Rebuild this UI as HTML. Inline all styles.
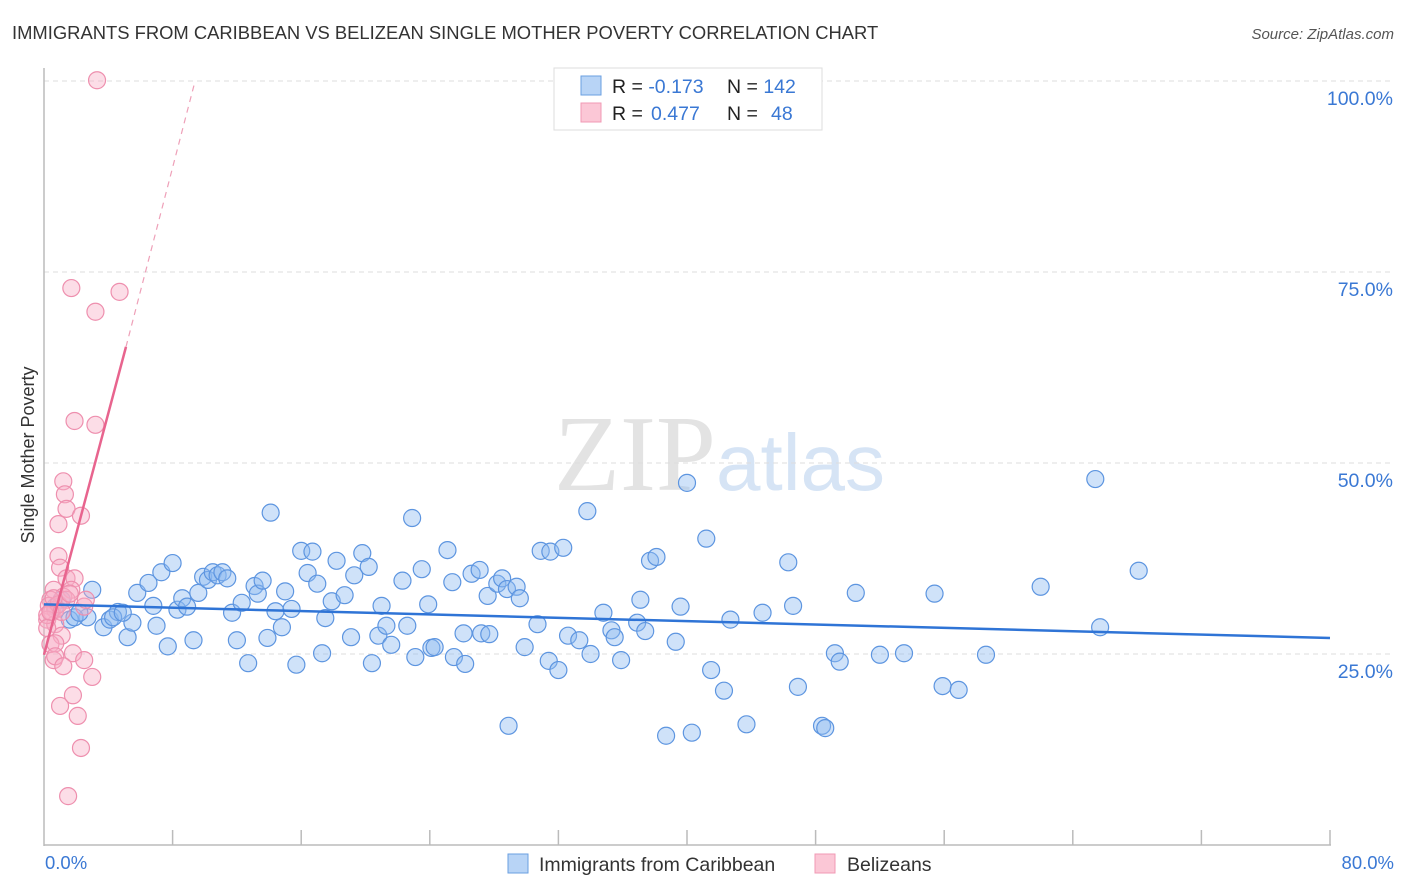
<!DOCTYPE html>
<html><head><meta charset="utf-8"><style>
body{margin:0;background:#fff;font-family:"Liberation Sans",sans-serif;}
svg{display:block}
</style></head><body>
<svg id="chart" width="1406" height="892">
<text x="12" y="39" font-size="18.4" fill="#333">IMMIGRANTS FROM CARIBBEAN VS BELIZEAN SINGLE MOTHER POVERTY CORRELATION CHART</text>
<text x="1394" y="39" font-size="15" fill="#555" font-style="italic" text-anchor="end">Source: ZipAtlas.com</text>
<text x="716" y="490" font-size="108" fill="#e3e3e3" text-anchor="end" font-family="Liberation Serif,serif">ZIP</text>
<text x="716" y="490" font-size="80" fill="#d6e4f5">atlas</text>
<g id="grid"></g><g id="axes"></g><g id="pts"></g><g id="trend"></g>
<text transform="translate(34,455) rotate(-90)" font-size="18" fill="#333" text-anchor="middle">Single Mother Poverty</text>
<text x="45" y="869" font-size="18.5" fill="#3a78d4">0.0%</text>
<text x="1394" y="869" font-size="18.5" fill="#3a78d4" text-anchor="end">80.0%</text>
<g>
<rect x="554" y="68" width="268" height="62" fill="#fff" stroke="#ddd"/>
<rect x="581" y="76" width="20" height="19" fill="#b8d4f6" stroke="#6a9fe0"/>
<rect x="581" y="103" width="20" height="19" fill="#fbc7d6" stroke="#f09ab4"/>
<text x="612" y="93" font-size="19.5" fill="#222">R = <tspan fill="#3a78d4">-0.173</tspan><tspan x="727">N = </tspan><tspan fill="#3a78d4">142</tspan></text>
<text x="612" y="120" font-size="19.5" fill="#222">R = <tspan fill="#3a78d4" x="651">0.477</tspan><tspan x="727">N = </tspan><tspan fill="#3a78d4" x="771">48</tspan></text>
</g>
<g>
<rect x="508" y="854" width="20" height="19" fill="#b8d4f6" stroke="#6a9fe0"/>
<text x="539" y="871" font-size="19.5" fill="#333">Immigrants from Caribbean</text>
<rect x="815" y="854" width="20" height="19" fill="#fbc7d6" stroke="#f09ab4"/>
<text x="847" y="871" font-size="19.5" fill="#333">Belizeans</text>
</g>
</svg>
<script>
const blueX=[3.0,1.1,1.6,2.7,3.7,4.1,4.6,5.2,5.5,5.8,6.5,6.8,7.0,7.3,7.7,8.0,8.3,8.6,8.9,9.3,9.6,9.9,10.2,10.5,10.8,11.1,11.4,11.7,12.0,12.3,12.7,13.1,13.3,13.6,13.9,14.1,14.4,14.8,15.0,15.4,15.7,16.0,16.4,16.7,17.0,17.3,17.5,17.9,18.2,18.7,19.1,19.3,19.8,20.2,20.4,20.8,21.0,21.3,21.6,22.3,22.6,22.9,23.1,23.5,23.9,24.1,24.3,25.1,25.4,25.5,26.1,26.2,26.6,27.1,27.2,27.6,27.7,28.2,28.5,28.8,29.4,29.6,29.9,30.7,30.9,31.4,31.5,32.0,32.3,32.6,33.3,33.8,34.0,34.8,35.3,35.5,35.9,36.9,37.1,37.4,37.7,38.1,38.7,39.3,39.6,40.0,40.3,41.2,41.5,42.3,42.7,43.7,44.7,46.3,46.6,46.9,48.4,48.6,49.2,49.5,50.5,52.0,53.5,55.4,55.9,56.9,58.6,62.0,65.4,65.7,68.1,28.9,0.7,1.9,2.2,4.3,4.9];
const blueY=[33.4,32.1,29.5,29.8,28.5,29.5,30.5,27.2,29.1,33.0,34.3,31.3,28.7,35.7,26.0,36.9,30.8,32.3,31.2,26.8,33.0,35.1,34.7,35.7,35.3,35.7,34.9,30.4,26.8,31.7,23.8,33.9,32.9,34.6,27.1,43.5,30.6,28.5,33.2,30.9,23.6,38.5,35.6,38.4,34.2,25.1,29.7,31.9,37.2,32.7,27.2,35.3,38.2,36.4,23.8,27.4,31.3,28.7,26.2,34.6,28.7,42.8,24.6,36.1,31.5,25.8,25.9,38.6,34.4,24.6,27.7,23.7,35.5,36.0,27.7,32.6,27.6,34.2,34.9,33.5,33.8,32.3,25.9,28.9,38.5,24.1,38.4,22.9,38.9,27.4,26.8,43.7,25.0,30.4,28.1,27.2,24.2,29.1,32.1,28.0,37.2,37.7,14.3,26.6,31.2,47.4,14.7,40.1,22.9,20.2,29.5,15.8,30.4,37.0,31.3,20.7,15.6,15.3,25.1,24.0,33.0,24.9,25.1,32.9,20.8,20.3,24.9,33.8,47.9,28.5,35.9,15.6,31.2,29.8,30.4,29.8,30.4];
const pinkX=[3.3,1.7,4.7,3.2,1.9,3.2,1.2,1.3,1.4,2.3,0.9,0.9,1.0,1.4,1.9,0.6,1.7,1.2,0.4,0.3,0.5,0.7,0.2,0.7,1.1,0.4,0.7,0.6,0.7,1.8,2.5,1.2,3.0,1.8,1.0,2.1,2.3,1.5,0.2,0.9,1.4,1.6,2.5,0.4,0.6,1.1,0.2,2.6];
const pinkY=[100.1,72.9,72.4,69.8,55.5,55.0,47.6,45.9,44.0,43.1,42.0,37.8,36.3,34.9,34.9,33.4,33.4,32.5,32.1,31.3,30.5,30.8,29.5,28.9,27.4,26.3,26.4,24.2,24.7,25.1,24.2,23.4,22.0,19.6,18.2,16.9,12.7,6.4,30.1,31.5,32.1,32.9,31.2,30.5,32.3,30.5,28.4,32.1];
const blueTrendX=[0,80], blueTrendY=[31.5,27.1];
const pinkTrendX=[0,5.1], pinkTrendY=[24.9,65.2];
const pinkDashX=[5.1,9.4], pinkDashY=[65.2,100];
const yTicks=[25,50,75,100], yTickLabels=["25.0%","50.0%","75.0%","100.0%"];
const xTicks=[8,16,24,32,40,48,56,64,72,80];
const X=v=>44+v*16.075, Y=v=>845-v*7.64;
const NS="http://www.w3.org/2000/svg";
function mk(p,tag,at){const e=document.createElementNS(NS,tag);for(const k in at)e.setAttribute(k,at[k]);p.appendChild(e);return e;}
const grid=document.getElementById('grid'),axes=document.getElementById('axes'),pts=document.getElementById('pts'),tr=document.getElementById('trend');
yTicks.forEach((t,i)=>{
 const l=mk(grid,'line',{x1:44,x2:1394,y1:Y(t),y2:Y(t),stroke:'#ddd','stroke-dasharray':'5,4'});
 
 
 const tx=mk(grid,'text',{x:1393,y:Y(t)+24,'font-size':19.5,fill:'#3a78d4','text-anchor':'end'});
 tx.textContent=yTickLabels[i];
 
 
});
let a=mk(axes,'line',{x1:44,x2:44,y1:68,y2:846,stroke:'#bbb','stroke-width':1.5});


a=mk(axes,'line',{x1:44,x2:1331,y1:845,y2:845,stroke:'#bbb','stroke-width':1.5});


xTicks.forEach(t=>{
 const l=mk(axes,'line',{x1:X(t),x2:X(t),y1:830,y2:845,stroke:'#bbb','stroke-width':1.5});
 
 
});
blueX.forEach((x,i)=>{
 const c=mk(pts,'circle',{cx:X(x),cy:Y(blueY[i]),r:8.5,fill:'rgba(140,185,240,0.42)',stroke:'#5d95e0','stroke-width':1.2});
 
 
});
pinkX.forEach((x,i)=>{
 const c=mk(pts,'circle',{cx:X(x),cy:Y(pinkY[i]),r:8.5,fill:'rgba(248,175,198,0.42)',stroke:'#ee8fae','stroke-width':1.2});
 
 
});
let t=mk(tr,'line',{x1:X(blueTrendX[0]),y1:Y(blueTrendY[0]),x2:X(blueTrendX[1]),y2:Y(blueTrendY[1]),stroke:'#2f74d6','stroke-width':2.5});


t=mk(tr,'line',{x1:X(pinkTrendX[0]),y1:Y(pinkTrendY[0]),x2:X(pinkTrendX[1]),y2:Y(pinkTrendY[1]),stroke:'#e8648e','stroke-width':2.5});


t=mk(tr,'line',{x1:X(pinkDashX[0]),y1:Y(pinkDashY[0]),x2:X(pinkDashX[1]),y2:Y(pinkDashY[1]),stroke:'#eea0b8','stroke-width':1.2,'stroke-dasharray':'6,5'});


</script>
</body></html>
